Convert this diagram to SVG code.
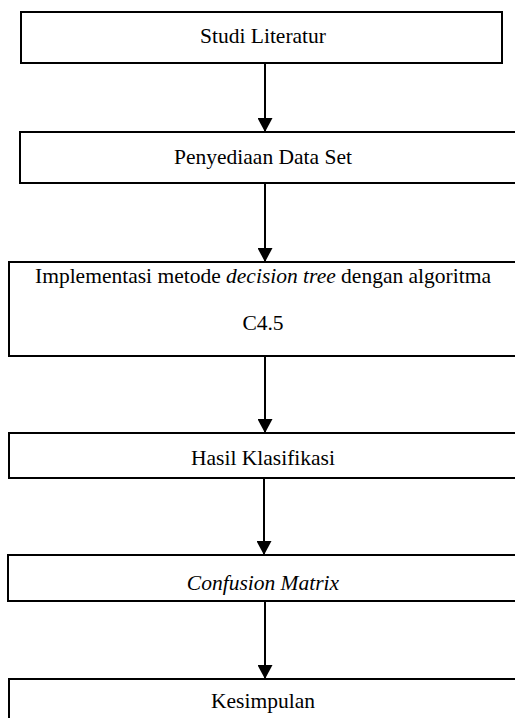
<svg xmlns="http://www.w3.org/2000/svg" width="515" height="718" viewBox="0 0 515 718">
<style>
.box{fill:#fff;stroke:#000;stroke-width:2}
.t{font-family:'Liberation Serif','Times New Roman',serif;font-size:21.5px;fill:#000;text-anchor:middle}
.i{font-style:italic}
.c{stroke:#000;stroke-width:2;fill:none}
</style>
<defs>
<marker id="ah" markerWidth="14" markerHeight="15" refX="14" refY="7.5" orient="auto" markerUnits="userSpaceOnUse" viewBox="0 0 14 15">
<path d="M0,0 L14,7.5 L0,15 Z" fill="#000"/>
</marker>
</defs>
<rect width="515" height="718" fill="#fff"/>
<g id="n1"><rect class="box" x="21" y="12" width="481" height="51"/><text class="t" x="263" y="43">Studi Literatur</text></g>
<g id="n2"><rect class="box" x="20" y="132" width="500" height="51"/><text class="t" x="263" y="164">Penyediaan Data Set</text></g>
<g id="n3"><rect class="box" x="9" y="262" width="511" height="94"/><text class="t" x="263" y="283">Implementasi metode <tspan class="i">decision tree</tspan> dengan algoritma</text><text class="t" x="263" y="330">C4.5</text></g>
<g id="n4"><rect class="box" x="9" y="433" width="511" height="45"/><text class="t" x="263" y="465">Hasil Klasifikasi</text></g>
<g id="n5"><rect class="box" x="8" y="555" width="512" height="46"/><text class="t i" x="263" y="590">Confusion Matrix</text></g>
<g id="n6"><rect class="box" x="9" y="679" width="511" height="50"/><text class="t" x="263" y="708">Kesimpulan</text></g>
<g id="connectors">
<line class="c" x1="265" y1="63" x2="265" y2="132" marker-end="url(#ah)"/>
<line class="c" x1="265" y1="183" x2="265" y2="262" marker-end="url(#ah)"/>
<line class="c" x1="265" y1="356" x2="265" y2="433" marker-end="url(#ah)"/>
<line class="c" x1="264" y1="478" x2="264" y2="555" marker-end="url(#ah)"/>
<line class="c" x1="265" y1="601" x2="265" y2="679" marker-end="url(#ah)"/>
</g>
</svg>
